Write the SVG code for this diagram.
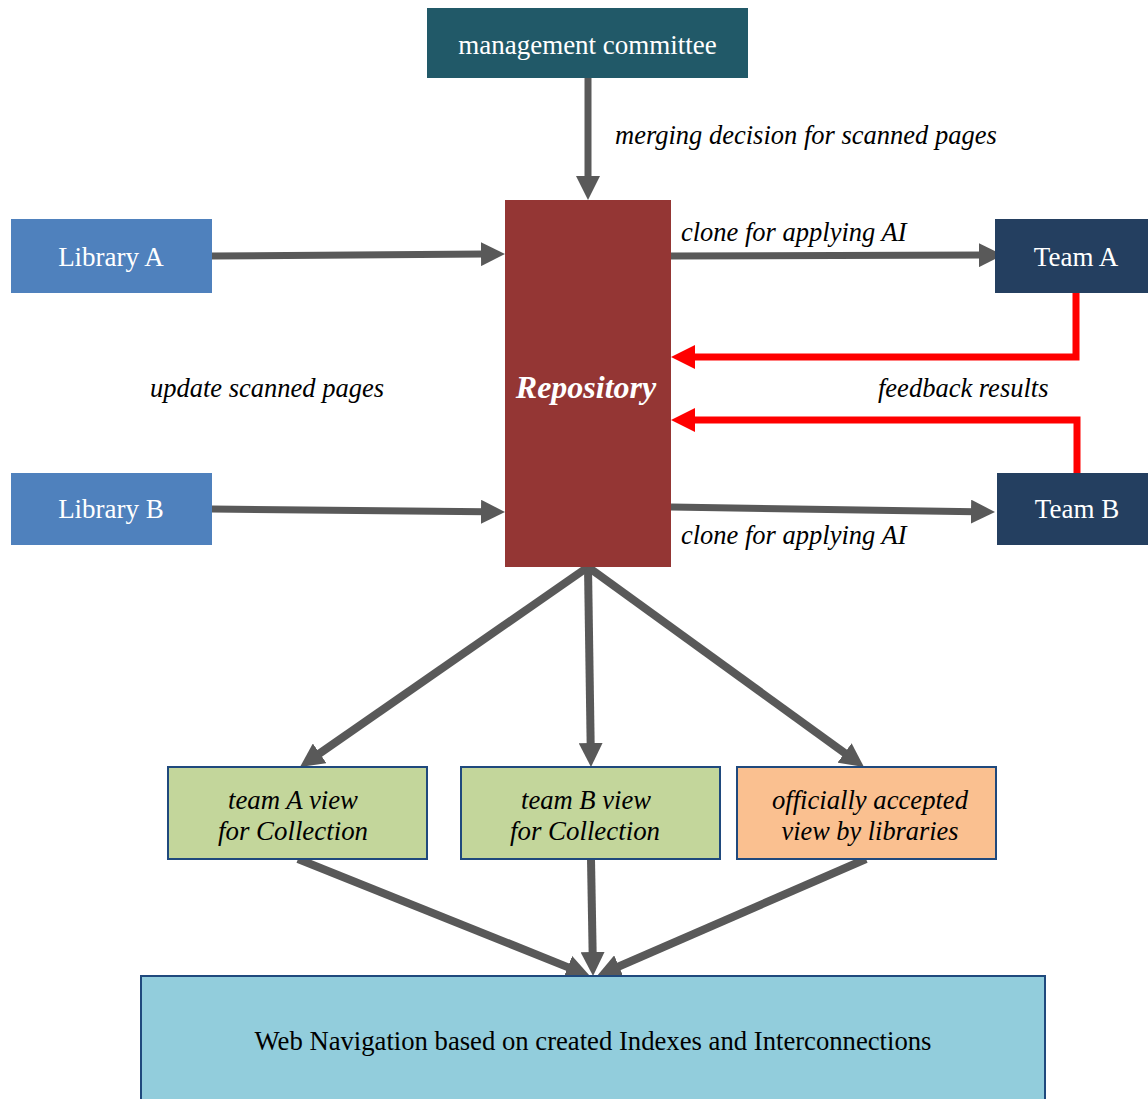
<svg xmlns="http://www.w3.org/2000/svg" width="1148" height="1099" viewBox="0 0 1148 1099">
<style>
.nt{font-family:"Liberation Serif","Times New Roman",serif;font-size:27px;fill:#ffffff;text-anchor:middle}
.lbl{font-family:"Liberation Serif","Times New Roman",serif;font-size:26.5px;font-style:italic;fill:#000000}
.bt{font-family:"Liberation Serif","Times New Roman",serif;font-size:27px;font-style:italic;fill:#000000;text-anchor:middle}
.wt{font-family:"Liberation Serif","Times New Roman",serif;font-size:27px;fill:#000000;text-anchor:middle}
.gc{fill:none;stroke:#595959;stroke-width:7}
.gd{fill:none;stroke:#595959;stroke-width:8}
.rc{fill:none;stroke:#ff0000;stroke-width:7}
.vb{stroke:#1f497d;stroke-width:2}
</style>
<defs>
<marker id="ag" markerUnits="userSpaceOnUse" markerWidth="24" markerHeight="24" refX="4" refY="12" orient="auto" viewBox="0 0 24 24"><path d="M0,0 L24,12 L0,24 z" fill="#595959"/></marker>
<marker id="ar" markerUnits="userSpaceOnUse" markerWidth="24" markerHeight="24" refX="4" refY="12" orient="auto" viewBox="0 0 24 24"><path d="M0,0 L24,12 L0,24 z" fill="#ff0000"/></marker>
</defs>
<rect width="1148" height="1099" fill="#ffffff"/>
<g id="connectors">
<path class="gc" d="M588,78 V180" marker-end="url(#ag)"/>
<path class="gc" d="M212,256 L485,254.1" marker-end="url(#ag)"/>
<path class="gc" d="M212,509 L485,511.8" marker-end="url(#ag)"/>
<path class="gc" d="M671,256 L983,255.1" marker-end="url(#ag)"/>
<path class="gc" d="M671,507 L975,511.7" marker-end="url(#ag)"/>
<path class="rc" d="M1076,293 V357 H691" marker-end="url(#ar)"/>
<path class="rc" d="M1077,473 V420 H691" marker-end="url(#ar)"/>
<path class="gd" d="M588,567 L316.4,755.6" marker-end="url(#ag)"/>
<path class="gd" d="M588,567 L590.7,747" marker-end="url(#ag)"/>
<path class="gd" d="M588,567 L847.8,755.3" marker-end="url(#ag)"/>
<path class="gd" d="M298,859 L571.4,968.6" marker-end="url(#ag)"/>
<path class="gd" d="M591,859 L592.7,956" marker-end="url(#ag)"/>
<path class="gd" d="M866,859 L615.3,968" marker-end="url(#ag)"/>
<text class="lbl" x="615" y="144">merging decision for scanned pages</text>
<text class="lbl" x="681" y="241">clone for applying AI</text>
<text class="lbl" x="681" y="544">clone for applying AI</text>
<text class="lbl" x="878" y="397">feedback results</text>
<text class="lbl" x="150" y="397">update scanned pages</text>
</g>
<g id="management">
<rect x="427" y="8" width="321" height="70" fill="#215968"/>
<text class="nt" x="587.5" y="54">management committee</text>
</g>
<g id="repository">
<rect x="505" y="200" width="166" height="367" fill="#943634"/>
<text x="586" y="398" font-family="Liberation Serif, Times New Roman, serif" font-size="32" font-weight="bold" font-style="italic" fill="#ffffff" text-anchor="middle">Repository</text>
</g>
<g id="libraryA">
<rect x="11" y="219" width="201" height="74" fill="#4f81bd"/>
<text class="nt" x="111" y="266">Library A</text>
</g>
<g id="libraryB">
<rect x="11" y="473" width="201" height="72" fill="#4f81bd"/>
<text class="nt" x="111" y="518">Library B</text>
</g>
<g id="teamA">
<rect x="995" y="219" width="153" height="74" fill="#243f60"/>
<text class="nt" x="1076" y="266">Team A</text>
</g>
<g id="teamB">
<rect x="997" y="473" width="151" height="72" fill="#243f60"/>
<text class="nt" x="1077" y="518">Team B</text>
</g>
<g id="teamAview">
<rect class="vb" x="168" y="767" width="259" height="92" fill="#c3d69b"/>
<text class="bt" x="293" y="809" textLength="130" lengthAdjust="spacingAndGlyphs">team A view</text>
<text class="bt" x="293" y="840" textLength="150" lengthAdjust="spacingAndGlyphs">for Collection</text>
</g>
<g id="teamBview">
<rect class="vb" x="461" y="767" width="259" height="92" fill="#c3d69b"/>
<text class="bt" x="586" y="809" textLength="130" lengthAdjust="spacingAndGlyphs">team B view</text>
<text class="bt" x="585" y="840" textLength="150" lengthAdjust="spacingAndGlyphs">for Collection</text>
</g>
<g id="officialView">
<rect class="vb" x="737" y="767" width="259" height="92" fill="#fac090"/>
<text class="bt" x="870" y="809" textLength="196" lengthAdjust="spacingAndGlyphs">officially accepted</text>
<text class="bt" x="870" y="840" textLength="177" lengthAdjust="spacingAndGlyphs">view by libraries</text>
</g>
<g id="webNavigation">
<rect class="vb" x="141" y="976" width="904" height="130" fill="#92cddc"/>
<text class="wt" x="593" y="1050" textLength="677" lengthAdjust="spacingAndGlyphs">Web Navigation based on created Indexes and Interconnections</text>
</g>
</svg>
